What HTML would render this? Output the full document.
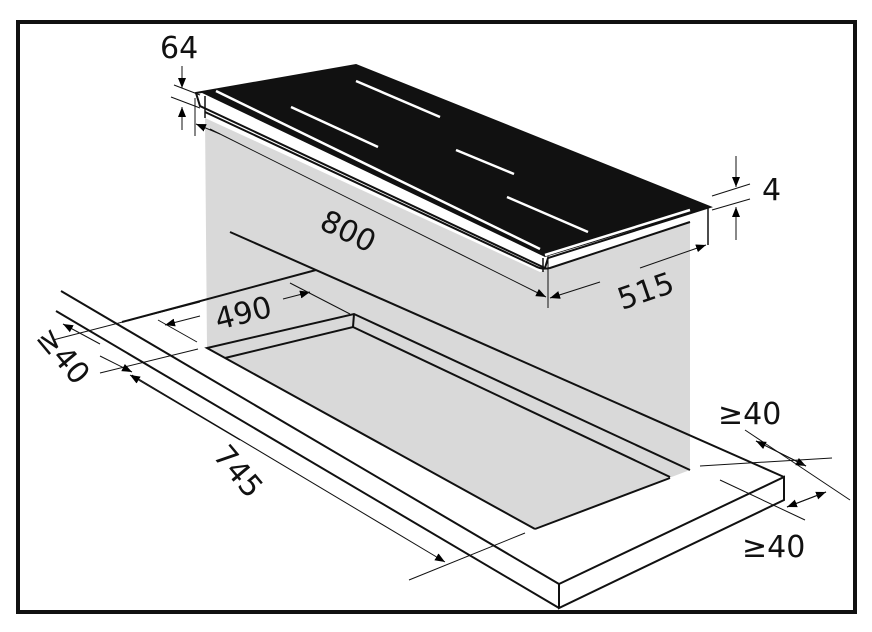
<!DOCTYPE html>
<html><head><meta charset="utf-8"><style>
html,body{margin:0;padding:0;background:#fff}
svg{display:block}
text{font-family:"DejaVu Sans","Liberation Sans",sans-serif;fill:#111}
</style></head><body>
<svg width="872" height="632" viewBox="0 0 872 632" xmlns="http://www.w3.org/2000/svg">
<defs>
<marker id="a" viewBox="0 0 10 10" refX="10" refY="5" markerWidth="10" markerHeight="10" markerUnits="userSpaceOnUse" orient="auto"><path d="M0,1 L10,5 L0,9z" fill="#000"/></marker>
</defs>
<rect x="18" y="22" width="837" height="590" fill="#fff" stroke="#111" stroke-width="4"/>
<polygon points="205,118 540,272 690,222 690,470 535,529 207,348" fill="#d9d9d9"/>
<g stroke="#111" stroke-width="2" fill="none">
<line x1="61" y1="291" x2="559" y2="584"/>
<line x1="56" y1="311" x2="559" y2="608"/>
<polyline points="559,584 784,477 784,500 559,608 559,584"/>
<line x1="122" y1="322" x2="316" y2="270"/>
<line x1="230" y1="232" x2="784" y2="477"/>
<polyline points="535,529 207,348 354,314 690,470"/>
<polyline points="225,358 353,327 670,477"/>
<line x1="354" y1="314" x2="353" y2="327"/>
<line x1="535" y1="529" x2="670" y2="478"/>
</g>
<polygon points="196,93 356,65 710,207 548,258 545,268 200,106" fill="#fff" stroke="#111" stroke-width="2"/>
<polygon points="200,92 356,65 710,207 545,257" fill="#111"/>
<path d="M205,112 L535,266 Q542,270 550,268 L690,222" fill="none" stroke="#111" stroke-width="2"/>
<line x1="708" y1="207" x2="708" y2="245" stroke="#111" stroke-width="1.5"/>
<line x1="543" y1="258" x2="543" y2="272" stroke="#111" stroke-width="1.5"/>
<line x1="205" y1="96" x2="205" y2="118" stroke="#111" stroke-width="1.5"/>
<g stroke="#fff" stroke-width="2.5">
<line x1="216" y1="91" x2="540" y2="249"/>
<line x1="356" y1="81" x2="440" y2="117"/>
<line x1="291" y1="107" x2="378" y2="147"/>
<line x1="456" y1="150" x2="514" y2="174"/>
<line x1="507" y1="197" x2="588" y2="232"/>
<line x1="545" y1="255" x2="690" y2="210"/>
</g>
<g stroke="#111" stroke-width="1" fill="none">
<line x1="174" y1="85" x2="200" y2="95"/>
<line x1="171" y1="97" x2="200" y2="108"/>
<line x1="182" y1="66" x2="182" y2="88" marker-end="url(#a)"/>
<line x1="182" y1="130" x2="182" y2="107" marker-end="url(#a)"/>
<line x1="195" y1="98" x2="195" y2="136"/>
<line x1="220" y1="134" x2="196" y2="124" marker-end="url(#a)"/>
<line x1="210" y1="129" x2="546" y2="297" marker-end="url(#a)"/>
<line x1="548" y1="256" x2="548" y2="308"/>
<line x1="640" y1="268" x2="706" y2="245" marker-end="url(#a)"/>
<line x1="600" y1="282" x2="550" y2="298" marker-end="url(#a)"/>
<line x1="712" y1="196" x2="750" y2="184"/>
<line x1="712" y1="210" x2="750" y2="199"/>
<line x1="736" y1="156" x2="736" y2="187" marker-end="url(#a)"/>
<line x1="736" y1="240" x2="736" y2="207" marker-end="url(#a)"/>
<line x1="200" y1="316" x2="165" y2="325" marker-end="url(#a)"/>
<line x1="283" y1="299" x2="310" y2="292" marker-end="url(#a)"/>
<line x1="158" y1="320" x2="197" y2="342"/>
<line x1="290" y1="283" x2="350" y2="314"/>
<line x1="53" y1="340" x2="200" y2="302"/>
<line x1="100" y1="373" x2="198" y2="349"/>
<line x1="100" y1="344" x2="63" y2="324" marker-end="url(#a)"/>
<line x1="100" y1="356" x2="132" y2="372" marker-end="url(#a)"/>
<line x1="132" y1="375" x2="445" y2="562" marker-end="url(#a)"/>
<line x1="240" y1="440" x2="130" y2="375" marker-end="url(#a)"/>
<line x1="409" y1="580" x2="525" y2="533"/>
<line x1="700" y1="466" x2="832" y2="458"/>
<line x1="745" y1="430" x2="850" y2="500"/>
<line x1="756" y1="441" x2="806" y2="466" marker-end="url(#a)"/>
<line x1="806" y1="466" x2="756" y2="441" marker-end="url(#a)"/>
<line x1="720" y1="480" x2="805" y2="520"/>
<line x1="787" y1="507" x2="826" y2="492" marker-end="url(#a)"/>
<line x1="826" y1="492" x2="787" y2="507" marker-end="url(#a)"/>
</g>
<g font-size="30">
<text x="160" y="58">64</text>
<text x="762" y="200">4</text>
<text transform="translate(318,228) rotate(26)">800</text>
<text transform="translate(622,310) rotate(-19)">515</text>
<text transform="translate(218,330) rotate(-14)">490</text>
<text transform="translate(212,456) rotate(50)">745</text>
<text transform="translate(35,338) rotate(50)">≥40</text>
<text x="718" y="424">≥40</text>
<text x="742" y="557">≥40</text>
</g>
</svg>
</body></html>
